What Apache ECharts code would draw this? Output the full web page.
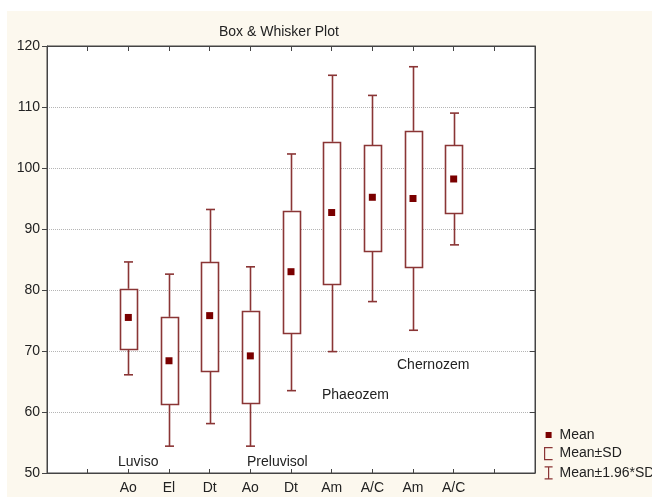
<!DOCTYPE html>
<html>
<head>
<meta charset="utf-8">
<script src="https://cdn.jsdelivr.net/npm/echarts@6/dist/echarts.min.js"></script>
<style>
  html, body { margin: 0; padding: 0; background: #fff; }
  #chart { width: 652px; height: 497px; }
</style>
</head>
<body>
<div id="chart"></div>
<script>
// ---- Data ----
const categories = ['', '', 'Ao', 'El', 'Dt', 'Ao', 'Dt', 'Am', 'A/C', 'Am', 'A/C', '', ''];
const means  = [75.5, 68.4, 75.8, 69.2, 83.0, 92.7, 95.2, 95.0, 98.2];
const sdLow  = [70.4, 61.4, 66.7, 61.6, 73.0, 81.0, 86.3, 83.8, 92.6];
const sdHigh = [80.2, 75.6, 84.6, 76.6, 93.0, 104.3, 103.7, 106.1, 103.7];
const ciLow  = [66.1, 54.4, 58.1, 54.4, 63.5, 69.9, 78.1, 73.4, 87.4];
const ciHigh = [84.6, 82.6, 93.2, 83.8, 102.3, 115.2, 111.9, 116.6, 109.0];
const yTicks = { min: 50, max: 120, interval: 10 };
const titleText = 'Box & Whisker Plot';
const groupLabels = ['Luviso', 'Preluvisol', 'Phaeozem', 'Chernozem'];
const legendNames = ['Mean', 'Mean±SD', 'Mean±1.96*SD'];

// slots on the category axis that carry a box
const boxSlots = categories.map((c, i) => (c ? i : -1)).filter(i => i >= 0);

const boxData = boxSlots.map((s, i) => [s, sdLow[i], sdHigh[i]]);
const whiskerData = boxSlots.map((s, i) => [s, ciLow[i], sdLow[i], sdHigh[i], ciHigh[i]]);
const meanData = boxSlots.map((s, i) => [s, means[i]]);

const BOX = '#8a3535';
const MEAN = '#7a0000';
const FONT = "'Liberation Sans', Arial, sans-serif";

const chart = echarts.init(document.getElementById('chart'), null, { renderer: 'canvas' });

function renderBox(params, api) {
  const x = api.value(0);
  const top = api.coord([x, api.value(2)]);
  const bot = api.coord([x, api.value(1)]);
  const w = 17;
  return {
    type: 'rect',
    shape: { x: Math.round(top[0] - w / 2) + 0.5, y: Math.round(top[1]) + 0.5, width: w, height: Math.round(bot[1] - top[1]) },
    style: { fill: '#fff', stroke: BOX, lineWidth: 1.6 }
  };
}

function renderWhisker(params, api) {
  const x = api.value(0);
  const pLo = api.coord([x, api.value(1)]);
  const pB = api.coord([x, api.value(2)]);
  const pT = api.coord([x, api.value(3)]);
  const pHi = api.coord([x, api.value(4)]);
  const cx = Math.round(pLo[0]) + 0.5;
  const cw = 4.5;
  const st = { stroke: BOX, lineWidth: 1.6 };
  return {
    type: 'group',
    children: [
      { type: 'line', shape: { x1: cx, y1: pLo[1], x2: cx, y2: pB[1] }, style: st },
      { type: 'line', shape: { x1: cx, y1: pT[1], x2: cx, y2: pHi[1] }, style: st },
      { type: 'line', shape: { x1: cx - cw, y1: pLo[1], x2: cx + cw, y2: pLo[1] }, style: st },
      { type: 'line', shape: { x1: cx - cw, y1: pHi[1], x2: cx + cw, y2: pHi[1] }, style: st }
    ]
  };
}

const axisTextStyle = { color: '#222', fontSize: 14, fontFamily: FONT };

const option = {
  backgroundColor: '#fcf8ee',
  animation: false,
  title: {
    text: titleText,
    left: 214,
    top: 20,
    textStyle: { fontSize: 14, fontWeight: 'normal', color: '#222', fontFamily: FONT }
  },
  grid: {
    left: 47, right: 117, top: 46, bottom: 24,
    show: true, backgroundColor: '#fff', borderColor: '#444', borderWidth: 1
  },
  legend: {
    orient: 'vertical',
    left: 537,
    top: 423,
    itemWidth: 12,
    itemHeight: 14,
    itemGap: 4,
    textStyle: { color: '#222', fontSize: 14, fontFamily: FONT, lineHeight: 14 },
    data: [
      { name: legendNames[0], icon: 'path://M0,0 M12,14 M3,4 L9,4 L9,10 L3,10 Z', itemStyle: { color: MEAN, opacity: 1 } },
      { name: legendNames[1], icon: 'path://M0,0 M12,14 M10,1 L2,1 L2,13 L10,13',
        itemStyle: { color: 'transparent', borderColor: BOX, borderWidth: 1.2 } },
      { name: legendNames[2], icon: 'path://M0,0 M12,14 M2,1 L10,1 M6,1 L6,13 M2,13 L10,13',
        itemStyle: { color: 'transparent', borderColor: BOX, borderWidth: 1.2 } }
    ]
  },
  xAxis: [
    {
      type: 'category', data: categories, boundaryGap: false, position: 'bottom',
      axisLine: { lineStyle: { color: '#444' } },
      axisTick: { inside: true, length: 4, interval: 0, lineStyle: { color: '#444' } },
      axisLabel: Object.assign({ interval: 0, margin: 8 }, axisTextStyle),
      splitLine: { show: false }
    },
    {
      type: 'category', data: categories, boundaryGap: false, position: 'top',
      axisLine: { lineStyle: { color: '#444' } },
      axisTick: { inside: true, length: 5, interval: 0, lineStyle: { color: '#444' } },
      axisLabel: { show: false },
      splitLine: { show: false }
    }
  ],
  yAxis: [
    {
      type: 'value', min: yTicks.min, max: yTicks.max, interval: yTicks.interval, position: 'left',
      axisLine: { show: true, lineStyle: { color: '#444' } },
      axisTick: { show: true, inside: false, length: 5, lineStyle: { color: '#444' } },
      axisLabel: Object.assign({ margin: 7 }, axisTextStyle),
      splitLine: { show: true, lineStyle: { color: '#b5b5b5', type: 'dotted', width: 1 } }
    },
    {
      type: 'value', min: yTicks.min, max: yTicks.max, interval: yTicks.interval, position: 'right',
      axisLine: { show: true, lineStyle: { color: '#444' } },
      axisTick: { show: true, inside: true, length: 5, lineStyle: { color: '#444' } },
      axisLabel: { show: false },
      splitLine: { show: false }
    }
  ],
  series: [
    {
      name: legendNames[2], type: 'custom', renderItem: renderWhisker,
      data: whiskerData, encode: { x: 0, y: [1, 2, 3, 4] }, z: 2,
      itemStyle: { color: BOX }
    },
    {
      name: legendNames[1], type: 'custom', renderItem: renderBox,
      data: boxData, encode: { x: 0, y: [1, 2] }, z: 3,
      itemStyle: { color: BOX }
    },
    {
      name: legendNames[0], type: 'scatter', data: meanData,
      symbol: 'rect', symbolSize: 7, z: 4,
      itemStyle: { color: MEAN, opacity: 1 }
    }
  ],
  graphic: [
    { type: 'rect', shape: { x: 0, y: 0, width: 652, height: 11 }, style: { fill: '#fff' }, silent: true },
    { type: 'rect', shape: { x: 0, y: 0, width: 7, height: 497 }, style: { fill: '#fff' }, silent: true },
    { type: 'text', style: { x: 118, y: 462, text: groupLabels[0], fill: '#222', font: '14px ' + FONT, verticalAlign: 'middle' }, z: 10 },
    { type: 'text', style: { x: 247, y: 462, text: groupLabels[1], fill: '#222', font: '14px ' + FONT, verticalAlign: 'middle' }, z: 10 },
    { type: 'text', style: { x: 322, y: 395, text: groupLabels[2], fill: '#222', font: '14px ' + FONT, verticalAlign: 'middle' }, z: 10 },
    { type: 'text', style: { x: 397, y: 365, text: groupLabels[3], fill: '#222', font: '14px ' + FONT, verticalAlign: 'middle' }, z: 10 }
  ]
};

chart.setOption(option);
</script>
</body>
</html>
